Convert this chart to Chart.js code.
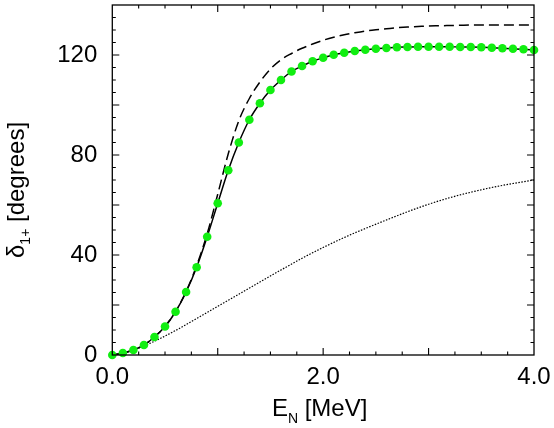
<!DOCTYPE html>
<html><head><meta charset="utf-8">
<script src="https://cdn.jsdelivr.net/npm/chart.js@4.4.1/dist/chart.umd.min.js"></script>
<style>html,body{margin:0;padding:0;background:#fff}#wrap{width:554px;height:428px}</style>
</head><body><div id="wrap"><canvas id="c" width="554" height="428"></canvas></div>
<script>
// Data
const energy = [0.0,0.1,0.2,0.3,0.4,0.5,0.6,0.7,0.8,0.9,1.0,1.1,1.2,1.3,1.4,1.5,1.6,1.7,1.8,1.9,2.0,2.1,2.2,2.3,2.4,2.5,2.6,2.7,2.8,2.9,3.0,3.1,3.2,3.3,3.4,3.5,3.6,3.7,3.8,3.9,4.0];
const fullPhase = [0,0.8,2.0,4.0,7.2,11.4,17.3,25.2,35.1,47.3,60.7,73.9,85.0,94.1,100.7,106.0,110.0,113.4,115.6,117.5,118.9,120.1,120.9,121.6,122.1,122.5,122.8,123.1,123.2,123.3,123.3,123.3,123.3,123.2,123.2,123.1,122.9,122.7,122.5,122.3,122.0];
const dashedPhase = [0,0.8,2.0,4.0,7.2,11.4,17.4,25.4,35.8,48.5,64.3,80.5,93.7,102.6,109.2,114.4,118.1,120.6,122.7,124.4,125.9,127.1,128.1,128.9,129.6,130.1,130.5,130.9,131.2,131.4,131.6,131.7,131.8,131.9,132.0,132.0,132.0,132.0,132.0,132.0,132.0];
const dottedEnergy = [0.0,0.2,0.4,0.6,0.8,1.0,1.2,1.4,1.6,1.8,2.0,2.2,2.4,2.6,2.8,3.0,3.2,3.4,3.6,3.8,4.0];
const dottedPhase = [0,2.0,5.5,9.8,14.6,19.5,24.3,29.2,34.0,38.7,43.0,47.0,50.6,54.0,57.3,60.3,62.9,65.1,67.0,68.6,70.0];
const xTickLabels = [0,2,4];
const yTickLabels = [0,40,80,120];
const xMinorTicks = [0.25,0.5,0.75,1,1.25,1.5,1.75,2,2.25,2.5,2.75,3,3.25,3.5,3.75];
const xMajorTicks = [1,2,3];
const yMinorTicks = [5,10,15,20,25,30,35,40,45,50,55,60,65,70,75,80,85,90,95,100,105,110,115,120,125,130,135];
const yMajorTicks = [20,40,60,80,100,120];

const FONT = '"Liberation Sans", Arial, Helvetica, sans-serif';
const pts = (xs, ys) => xs.map((v, i) => ({x: v, y: ys[i]}));

const framePlugin = {
  id: 'frame',
  afterDraw(chart) {
    const {ctx, chartArea: a, scales: {x, y}} = chart;
    ctx.save();
    ctx.strokeStyle = '#000';
    ctx.lineWidth = 1.3;
    ctx.strokeRect(a.left, a.top, a.right - a.left, a.bottom - a.top);
    ctx.lineWidth = 1.1;
    ctx.beginPath();
    xMinorTicks.forEach(v => {
      const px = x.getPixelForValue(v);
      const len = xMajorTicks.includes(v) ? 7 : 3.5;
      ctx.moveTo(px, a.bottom); ctx.lineTo(px, a.bottom - len);
      ctx.moveTo(px, a.top); ctx.lineTo(px, a.top + len);
    });
    yMinorTicks.forEach(v => {
      const py = y.getPixelForValue(v);
      const len = yMajorTicks.includes(v) ? 7 : 3.5;
      ctx.moveTo(a.left, py); ctx.lineTo(a.left + len, py);
      ctx.moveTo(a.right, py); ctx.lineTo(a.right - len, py);
    });
    ctx.stroke();

    // axis titles with subscripts
    ctx.fillStyle = '#000';
    ctx.textBaseline = 'alphabetic';
    ctx.textAlign = 'left';
    const big = '24px ' + FONT, small = '14px ' + FONT;
    ctx.font = big; const wE = ctx.measureText('E').width; const wR = ctx.measureText(' [MeV]').width;
    ctx.font = small; const wN = ctx.measureText('N').width;
    let sx = (a.left + a.right) / 2 - 3.5 - (wE + wN + wR) / 2;
    const by = 416;
    ctx.font = big; ctx.fillText('E', sx, by);
    ctx.font = small; ctx.fillText('N', sx + wE, by + 6.5);
    ctx.font = big; ctx.fillText(' [MeV]', sx + wE + wN, by);
    ctx.translate(23.5, 258);
    ctx.rotate(-Math.PI / 2);
    ctx.font = big; const wd = ctx.measureText('\u03b4').width;
    ctx.fillText('\u03b4', 0, 0);
    ctx.font = small; const ws = ctx.measureText('1+').width;
    ctx.fillText('1+', wd, 6.5);
    ctx.font = big; ctx.fillText(' [degrees]', wd + ws, 0);
    ctx.restore();
  }
};

new Chart(document.getElementById('c'), {
  type: 'scatter',
  data: {
    datasets: [
      {data: pts(energy, fullPhase), showLine: false, pointRadius: 4.3, pointHoverRadius: 4.3, clip: false,
       pointBackgroundColor: '#11ee11', pointBorderWidth: 0, pointBorderColor: '#11ee11', order: 0},
      {data: pts(energy, fullPhase), showLine: true, pointRadius: 0, borderColor: '#000', borderWidth: 1.5,
       cubicInterpolationMode: 'monotone', order: 1},
      {data: pts(energy, dashedPhase), showLine: true, pointRadius: 0, borderColor: '#000', borderWidth: 1.5,
       borderDash: [10, 5], cubicInterpolationMode: 'monotone', order: 2},
      {data: pts(dottedEnergy, dottedPhase), showLine: true, pointRadius: 0, borderColor: '#000', borderWidth: 1.2,
       borderDash: [1.5, 1.5], cubicInterpolationMode: 'monotone', order: 3}
    ]
  },
  options: {
    responsive: false,
    animation: false,
    devicePixelRatio: 1,
    layout: {padding: {left: 0, right: 20, top: 5, bottom: 0}},
    plugins: {legend: {display: false}, tooltip: {enabled: false}},
    scales: {
      x: {
        type: 'linear', min: 0, max: 4,
        afterBuildTicks: s => { s.ticks = xTickLabels.map(v => ({value: v})); },
        afterFit: s => { s.height = 73; s.paddingLeft = 0; s.paddingRight = 0; },
        grid: {display: false, drawTicks: false},
        border: {display: false},
        ticks: {padding: 8, maxRotation: 0, autoSkip: false, color: '#000', font: {size: 24, family: FONT},
                callback: v => Number(v).toFixed(1)}
      },
      y: {
        type: 'linear', min: 0, max: 140,
        afterBuildTicks: s => { s.ticks = yTickLabels.map(v => ({value: v})); },
        afterFit: s => { s.width = 112.3; s.paddingTop = 0; s.paddingBottom = 0; },
        grid: {display: false, drawTicks: false},
        border: {display: false},
        ticks: {padding: 15, autoSkip: false, color: '#000', font: {size: 24, family: FONT},
                callback: v => String(v)}
      }
    }
  },
  plugins: [framePlugin]
});
</script></body></html>
